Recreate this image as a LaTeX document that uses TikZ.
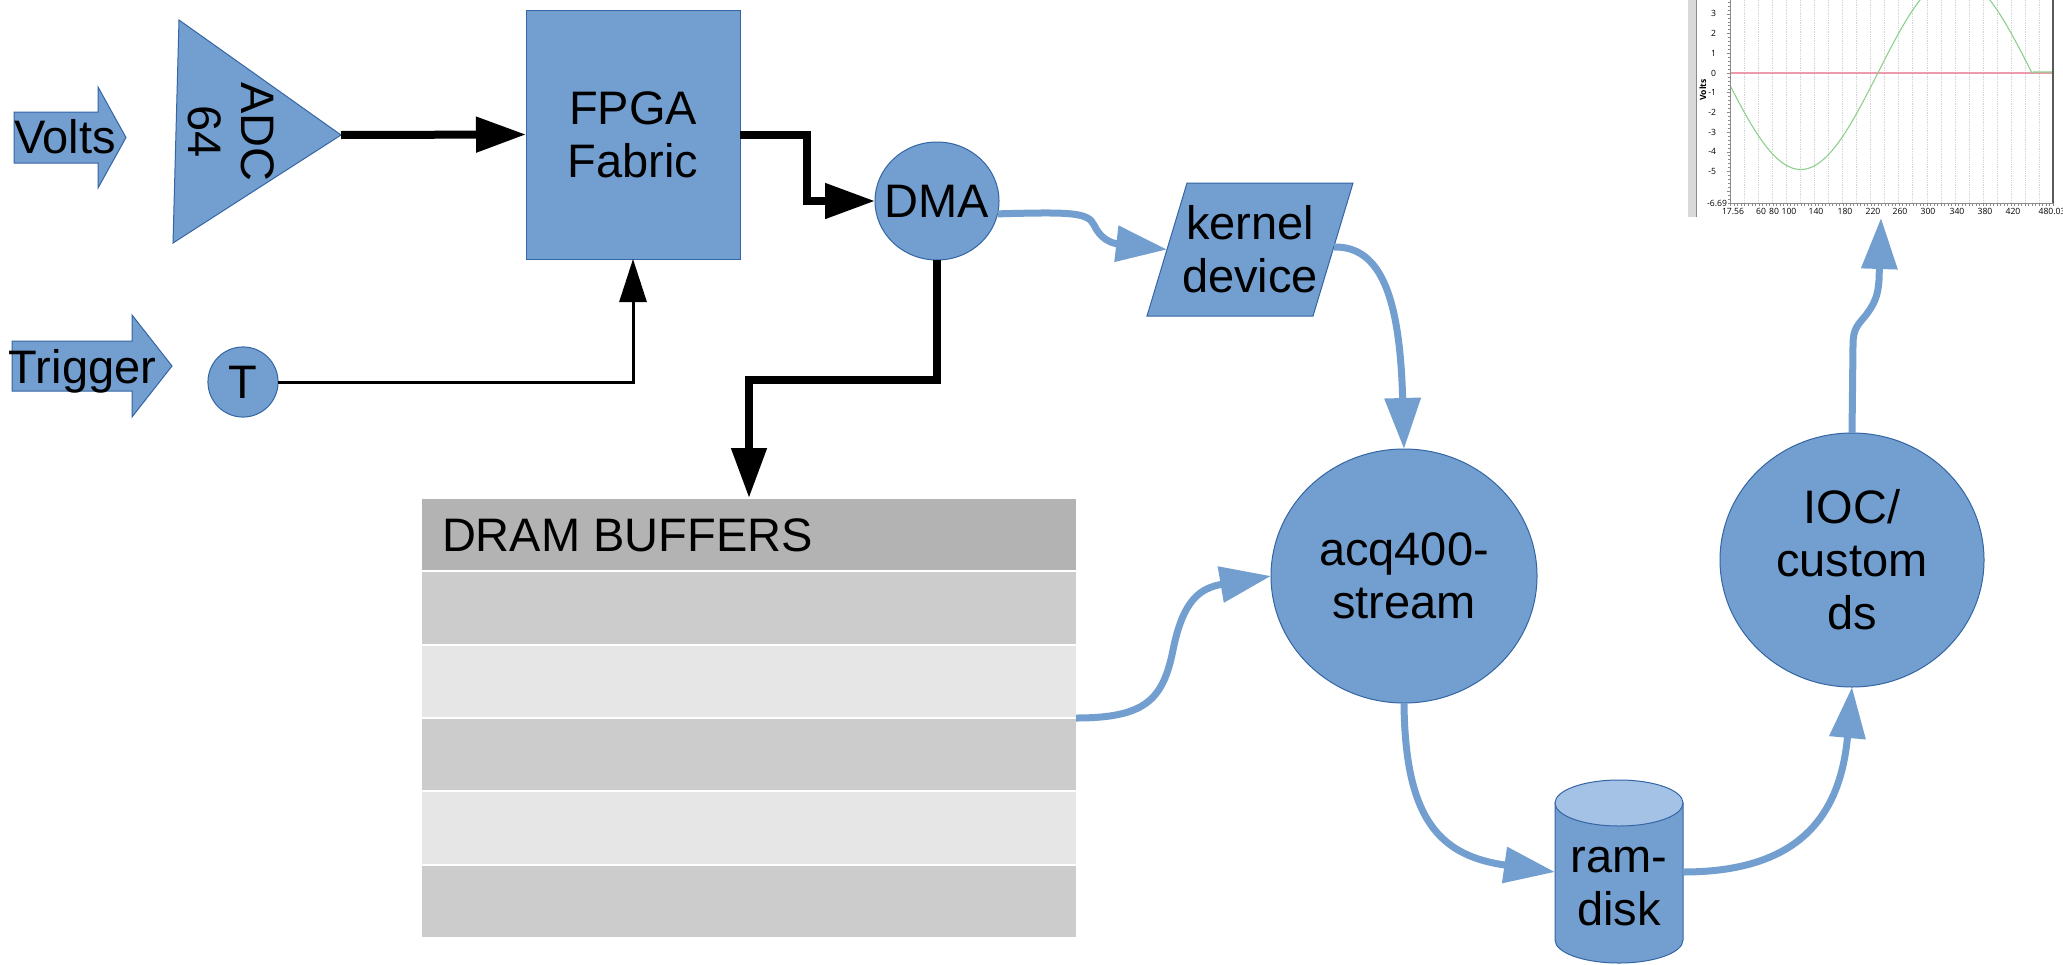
\documentclass[tikz,border=0pt]{standalone}
\usepackage{fontspec}
\setmainfont{Liberation Sans}
\newfontfamily\chartfont{Open Sans}
\usetikzlibrary{arrows.meta,shapes.geometric,calc}
\definecolor{lofill}{HTML}{729FCF}
\definecolor{loline}{HTML}{3465A4}
\definecolor{lotop}{HTML}{A4C2E5}
\definecolor{hdrgray}{HTML}{B3B3B3}
\definecolor{rowa}{HTML}{CCCCCC}
\definecolor{rowb}{HTML}{E6E6E6}
\definecolor{gridgray}{HTML}{D4D4D4}
\definecolor{zeropink}{HTML}{EE9AAE}
\definecolor{curvegreen}{HTML}{8ED08E}
\definecolor{axisgray}{HTML}{8A8A8A}
\begin{document}
\begin{tikzpicture}[x=1pt,y=-1pt,
  every node/.style={inner sep=0pt, outer sep=0pt},
  lbl/.style={font=\fontsize{47}{53}\selectfont, align=center},
  blk/.style={fill=lofill, draw=loline, line width=1pt},
  ell/.style={ellipse, inner sep=-40pt},
  bluearrow/.style={draw=lofill, line width=7pt, -{Triangle[length=51pt,width=35pt]}},
  blackthick/.style={draw=black, line width=8pt, -{Triangle[length=50pt,width=34pt]}},
  blackthin/.style={draw=black, line width=3pt, -{Triangle[length=43pt,width=27pt]}},
  chartlbl/.style={font=\chartfont\fontsize{8.6}{10}\selectfont}
]
\useasboundingbox (0,0) rectangle (2063,964);
\fill[white] (0,0) rectangle (2063,964);

% ---------------- chart (top right) ----------------
\begin{scope}
\clip (1680,0) rectangle (2063,222);
\fill[black!15] (1688,0) rectangle (1696,217);
\draw[black!45, line width=1pt] (1696,0) -- (1696,217);
\foreach \v in {40,60,...,460}
  \draw[gridgray, line width=0.8pt, densely dotted] ({1729+(\v-17.56)*0.7006},0) -- ({1729+(\v-17.56)*0.7006},203);
\draw[zeropink, line width=1.3pt] (1730,73) -- (2053,73);
\begin{scope}
\clip (1730,0) rectangle (2053,203);
\draw[curvegreen, line width=1.1pt] plot[domain=17.56:450, samples=160] ({1729+(\x-17.56)*0.7006},{73-96.5*sin(0.81818*(\x-230))}) -- ({1729+(452-17.56)*0.7006},72) -- (2053,72);
\end{scope}
\foreach \v in {20,25,...,480}
  \draw[axisgray, line width=0.5pt] ({1729+(\v-17.56)*0.7006},203) -- ++(0,2.5);
\foreach \k in {-33,...,18}
  \draw[axisgray, line width=0.5pt] (1730,{73-19.7*\k/5}) -- ++(-1.8,0);
\foreach \k in {-6,...,3}
  \draw[axisgray, line width=0.6pt] (1730,{73-19.7*\k}) -- ++(-3.5,0);
\draw[axisgray, line width=1pt] (1730,0) -- (1730,203) -- (2053,203);
\draw[black!65, line width=1.3pt] (2053,0) -- (2053,203);
\foreach \v [count=\k] in {3,2,1,0,-1,-2,-3,-4,-5}
  \node[chartlbl, anchor=east] (ylab\k) at (1716,{73-19.7*\v}) {\v};
\node[chartlbl, anchor=east] (ylabmin) at (1727,203) {-6.69};
\node[chartlbl, font=\chartfont\bfseries\fontsize{8.6}{10}\selectfont, rotate=90] (vlabel) at (1703,90) {Volts};
\foreach \t/\p [count=\k] in {17.56/1733,60/1761,80/1774,100/1789,140/1816,180/1845,220/1873,260/1900,300/1928,340/1957,380/1985,420/2013,480.03/2052}
  \node[chartlbl] (xlab\k) at (\p,211) {\t};
\end{scope}
\coordinate (chartin) at (1881,218);

% ---------------- inputs ----------------
\path[blk] (14,112) -- (98,112) -- (98,87) -- (126,137.5) -- (98,188) -- (98,163) -- (14,163) -- cycle;
\node[lbl, anchor=base west] (volts) at (14,153) {Volts};
\path[blk] (12,341) -- (132,341) -- (132,315) -- (172,366) -- (132,417) -- (132,391) -- (12,391) -- cycle;
\node[lbl, anchor=base west] (trigger) at (9,383) {Trigger};

\path[blk] (179,20) -- (341,135) -- (173,243) -- cycle;
\coordinate (adctip) at (341,135);
\node[lbl, rotate=-90] (adc) at (231,132) {ADC\\64};

\node[blk, lbl, circle, inner sep=-40pt, minimum size=70pt] (t) at (243,382) {T};

% ---------------- main blocks ----------------
\node[blk, lbl, minimum width=214pt, minimum height=249pt] (fpga) at (633,134.5) {FPGA\\Fabric};
\node[blk, lbl, ell, minimum width=124pt, minimum height=118pt] (dma) at (937,201) {DMA};

\path[blk] (1187,183) -- (1353,183) -- (1313,316) -- (1147,316) -- cycle;
\node[lbl] (kernel) at (1250,249.5) {kernel\\device};
\coordinate (kin) at (1167,249.5);
\coordinate (kout) at (1334,247);

\node[blk, lbl, ell, minimum width=266pt, minimum height=254pt] (acq) at (1404,576) {acq400-\\stream};
\node[blk, lbl, ell, minimum width=264pt, minimum height=254pt] (ioc) at (1852,560) {IOC/\\custom\\ds};

% DRAM buffers
\node[minimum width=654pt, minimum height=440pt] (dram) at (749,718) {};
\foreach \i/\c in {0/hdrgray,1/rowa,2/rowb,3/rowa,4/rowb,5/rowa}
  \fill[\c] (422,{498+73.33*\i+1}) rectangle (1076,{498+73.33*(\i+1)-1});
\node[lbl, anchor=base west] (drtitle) at (442,551) {DRAM BUFFERS};

% ram-disk cylinder
\path[blk] (1555,803) -- (1555,940) arc[start angle=180, end angle=360, x radius=64pt, y radius=23pt] -- (1683,803) -- cycle;
\path[fill=lotop, draw=loline, line width=1pt] (1619,803) ellipse [x radius=64pt, y radius=23pt];
\node[lbl] (ram) at (1619,887) {ram-\\disk};
\coordinate (ramL) at (1555,872);
\coordinate (ramR) at (1683,872);

% ---------------- connectors ----------------
\draw[blackthick] (adctip) -- (fpga.west);
\draw[blackthick] (fpga.east) -| ($(dma.west)+(-68,0)$) -- (dma.west);
\draw[blackthick] (dma.south) |- ($(dram.north)+(0,-118)$) -- (dram.north);
\draw[blackthin] (t.east) -| (fpga.south);

\draw[bluearrow] (dma.-12) .. controls (1070,212) and (1088,212) .. (1094,225) .. controls (1100,238) and (1110,243) .. (kin);
\draw[bluearrow] (kout) .. controls (1382,246) and (1400,300) .. (acq.north);
\draw[bluearrow] (dram.east) .. controls (1145,718) and (1163,700) .. (1173,650) .. controls (1183,600) and (1200,588) .. (acq.west);
\draw[bluearrow] (acq.south) .. controls (1405,820) and (1440,856) .. (ramL);
\draw[bluearrow] (ramR) .. controls (1795,872) and (1840,820) .. (ioc.south);
\draw[bluearrow] (ioc.north) -- (1853,345) .. controls (1853,328) and (1858,325) .. (1866,315) .. controls (1875,303) and (1878,295) .. (1879,280) -- (chartin);
\end{tikzpicture}
\end{document}
